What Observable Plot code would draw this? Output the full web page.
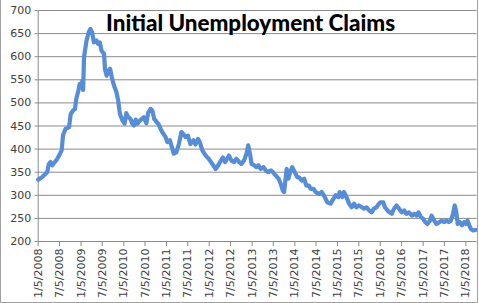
<!DOCTYPE html>
<html><head><meta charset="utf-8">
<script src="https://cdn.jsdelivr.net/npm/d3@7"></script>
<script src="https://cdn.jsdelivr.net/npm/@observablehq/plot@0.6"></script>
<style>
body{margin:0;background:#fff}
#chart{position:relative;width:479px;height:303px;overflow:hidden}
</style>
</head><body><div id="chart"></div>
<script>
const title = "Initial Unemployment Claims";

// decimal years of sampled weekly readings
const years = [
2008.01,2008.10,2008.22,2008.26,2008.30,2008.34,2008.38,2008.45,2008.52,2008.56,
2008.59,2008.65,2008.73,2008.77,2008.82,2008.87,2008.90,2008.95,2008.98,2009.02,
2009.04,2009.06,2009.08,2009.14,2009.19,2009.23,2009.27,2009.31,2009.37,2009.41,
2009.45,2009.49,2009.55,2009.57,2009.61,2009.65,2009.69,2009.73,2009.78,2009.84,
2009.88,2009.92,2009.98,2010.03,2010.07,2010.11,2010.17,2010.21,2010.25,2010.29,
2010.33,2010.39,2010.44,2010.48,2010.54,2010.58,2010.64,2010.68,2010.72,2010.77,
2010.83,2010.87,2010.91,2010.99,2011.03,2011.09,2011.15,2011.18,2011.24,2011.30,
2011.36,2011.40,2011.46,2011.51,2011.57,2011.64,2011.69,2011.75,2011.79,2011.85,
2011.93,2012.00,2012.08,2012.16,2012.22,2012.28,2012.33,2012.38,2012.43,2012.47,
2012.53,2012.59,2012.64,2012.71,2012.76,2012.82,2012.88,2012.92,2012.96,2013.00,
2013.06,2013.11,2013.16,2013.21,2013.28,2013.33,2013.39,2013.45,2013.50,2013.56,
2013.63,2013.68,2013.73,2013.76,2013.80,2013.82,2013.86,2013.90,2013.95,2014.01,
2014.07,2014.11,2014.17,2014.23,2014.28,2014.34,2014.38,2014.45,2014.50,2014.58,
2014.64,2014.69,2014.77,2014.85,2014.91,2014.97,2015.03,2015.06,2015.12,2015.16,
2015.22,2015.28,2015.34,2015.40,2015.45,2015.51,2015.58,2015.63,2015.69,2015.75,
2015.81,2015.86,2015.92,2015.98,2016.02,2016.08,2016.12,2016.18,2016.23,2016.28,
2016.33,2016.39,2016.45,2016.51,2016.57,2016.62,2016.68,2016.75,2016.80,2016.86,
2016.90,2016.96,2017.01,2017.06,2017.11,2017.17,2017.21,2017.27,2017.32,2017.39,
2017.45,2017.50,2017.56,2017.61,2017.66,2017.71,2017.75,2017.78,2017.82,2017.87,
2017.92,2017.97,2018.01,2018.05,2018.09,2018.13,2018.18,2018.24
];

// initial claims, thousands
const claims = [
334,339,350,368,372,365,370,378,390,398,
430,444,447,476,483,487,509,527,541,534,
548,528,599,635,653,660,653,631,635,628,
631,613,606,574,559,570,574,556,538,523,
505,476,462,455,478,470,465,455,451,464,
455,462,466,469,456,478,487,483,466,460,
453,444,437,426,415,419,400,390,393,411,
437,433,426,429,411,419,410,422,415,397,
386,379,368,357,365,375,382,372,379,386,
375,372,379,372,368,375,390,408,390,368,
365,361,365,357,361,354,350,354,350,343,
336,325,310,307,340,357,336,350,361,350,
339,339,332,336,321,321,314,314,307,303,
307,300,285,282,292,300,296,307,296,307,
296,282,274,282,274,278,274,271,274,267,
263,271,274,282,285,285,274,267,263,260,
271,278,271,263,267,260,263,256,260,256,
263,253,249,242,238,245,256,245,238,242,
245,242,245,242,245,260,278,267,238,242,
235,242,238,245,235,227,224,225
];

const xTickLabels = [
"1/5/2008","7/5/2008","1/5/2009","7/5/2009","1/5/2010","7/5/2010","1/5/2011",
"7/5/2011","1/5/2012","7/5/2012","1/5/2013","7/5/2013","1/5/2014","7/5/2014",
"1/5/2015","7/5/2015","1/5/2016","7/5/2016","1/5/2017","7/5/2017","1/5/2018"
];
const yTicks = [200,250,300,350,400,450,500,550,600,650,700];
const xStart = "1/5/2008";
const xEnd = "4/10/2018";

const parseMDY = s => { const [m,d,y] = s.split("/").map(Number); return new Date(y, m-1, d); };
const fromDecimalYear = t => {
  const y = Math.floor(t);
  const a = new Date(y,0,1).getTime(), b = new Date(y+1,0,1).getTime();
  return new Date(a + (t - y) * (b - a));
};
const data = years.map((t,i) => ({date: fromDecimalYear(t), value: claims[i]}));
const xTicks = xTickLabels.map(parseMDY);
const fmt = d => `${d.getMonth()+1}/${d.getDate()}/${d.getFullYear()}`;

const grid = "#8a8a8a";
const plot = Plot.plot({
  width: 479,
  height: 303,
  marginLeft: 37.7,
  marginRight: 2.5,
  marginTop: 10,
  marginBottom: 62,
  style: {fontFamily: "DejaVu Sans", fontSize: "11px", color: "#404040", background: "#fff"},
  x: {type: "time", domain: [parseMDY(xStart), parseMDY(xEnd)]},
  y: {domain: [200, 700]},
  marks: [
    Plot.gridY(yTicks, {stroke: grid, strokeOpacity: 1}),
    Plot.ruleX([parseMDY(xStart)], {stroke: grid}),
    Plot.axisY(yTicks, {tickSize: 3, tickPadding: 4, stroke: grid, tickFormat: d => String(d), label: null}),
    Plot.axisX(xTicks, {tickSize: 5, tickPadding: 2, tickRotate: -90, stroke: grid, tickFormat: fmt, label: null}),
    Plot.line(data, {x: "date", y: "value", stroke: "#568DD6", strokeWidth: 4.2, strokeLinejoin: "round", strokeLinecap: "round"}),
    Plot.text([title], {frameAnchor: "top", lineAnchor: "middle", dx: -7, dy: 13, fontFamily: "Lato", fontWeight: 900, fontSize: 23, fill: "#000"})
  ]
});
document.getElementById("chart").appendChild(plot);
const svg = d3.select(plot);
svg.selectAll('g[aria-label="text"] text').attr("textLength", 289).attr("lengthAdjust", "spacingAndGlyphs");
// chart outer border (left, right, bottom)
svg.append("path").attr("d", "M0.5,0V302.5H477.5V0").attr("fill", "none").attr("stroke", "#a0a0a0");
</script>
</body></html>
